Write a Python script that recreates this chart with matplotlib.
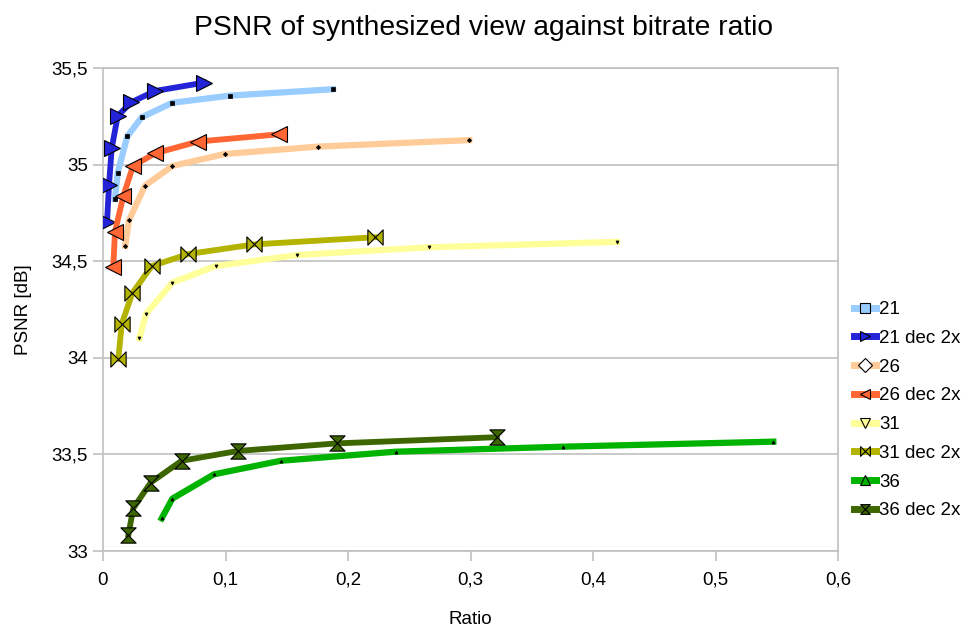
import numpy as np
import matplotlib
matplotlib.use("Agg")
import matplotlib.pyplot as plt
from matplotlib.path import Path
from matplotlib.lines import Line2D
from matplotlib.ticker import FuncFormatter, MultipleLocator

plt.rcParams['font.family'] = ['Liberation Sans', 'DejaVu Sans']

# ---- data ----------------------------------------------------------------
x21   = [0.0098, 0.0120, 0.0198, 0.0316, 0.0566, 0.1037, 0.1878]
y21   = [34.822, 34.958, 35.146, 35.245, 35.320, 35.357, 35.390]
x21d  = [0.0033, 0.0049, 0.0071, 0.0120, 0.0229, 0.0424, 0.0824]
y21d  = [34.703, 34.894, 35.084, 35.252, 35.322, 35.381, 35.424]
x26   = [0.0182, 0.0212, 0.0343, 0.0566, 0.0996, 0.1753, 0.2990]
y26   = [34.580, 34.712, 34.891, 34.993, 35.055, 35.093, 35.127]
x26d  = [0.0084, 0.0098, 0.0166, 0.0245, 0.0424, 0.0773, 0.1439]
y26d  = [34.472, 34.653, 34.837, 34.993, 35.058, 35.119, 35.157]
x31   = [0.0296, 0.0351, 0.0566, 0.0920, 0.1586, 0.2659, 0.4196]
y31   = [34.101, 34.227, 34.389, 34.475, 34.532, 34.572, 34.600]
x31d  = [0.0125, 0.0153, 0.0239, 0.0398, 0.0696, 0.1235, 0.2220]
y31d  = [33.994, 34.175, 34.334, 34.475, 34.537, 34.587, 34.624]
x36   = [0.0479, 0.0566, 0.0906, 0.1451, 0.2389, 0.3758, 0.5472]
y36   = [33.169, 33.271, 33.397, 33.467, 33.514, 33.540, 33.566]
x36d  = [0.0207, 0.0247, 0.0389, 0.0642, 0.1104, 0.1908, 0.3214]
y36d  = [33.083, 33.221, 33.354, 33.467, 33.518, 33.557, 33.589]

labels = ["21", "21 dec 2x", "26", "26 dec 2x", "31", "31 dec 2x", "36", "36 dec 2x"]
colors = ["#99ccff", "#2323d8", "#ffcc99", "#ff6633",
          "#ffff99", "#b3b300", "#00b300", "#3d6600"]

# custom markers: bowtie and hourglass
bowtie = Path([(-1, 1), (1, -1), (1, 1), (-1, -1), (-1, 1)],
              [Path.MOVETO, Path.LINETO, Path.LINETO, Path.LINETO, Path.CLOSEPOLY])
hourglass = Path([(-1, 1), (1, 1), (-1, -1), (1, -1), (-1, 1)],
                 [Path.MOVETO, Path.LINETO, Path.LINETO, Path.LINETO, Path.CLOSEPOLY])
markers = ["s", ">", "D", "<", "v", bowtie, "^", hourglass]

series = [(x21, y21), (x21d, y21d), (x26, y26), (x26d, y26d),
          (x31, y31), (x31d, y31d), (x36, y36), (x36d, y36d)]

fig = plt.figure(figsize=(9.66, 6.3), dpi=100)
ax = fig.add_axes([103/966, 1-551/630, 735/966, 483/630])

for i, (xs, ys) in enumerate(series):
    dec = i % 2 == 1
    if dec:
        ax.plot(xs, ys, color=colors[i], lw=4.2, marker=markers[i], ms=11,
                mfc=colors[i], mec="black", mew=0.8, solid_joinstyle="round", zorder=3)
    else:
        ax.plot(xs, ys, color=colors[i], lw=4.5, marker=markers[i], ms=2.2,
                mfc="black", mec="black", mew=0.5, solid_joinstyle="round", zorder=2)

ax.set_xlim(0, 0.6)
ax.set_ylim(33, 35.5)
ax.xaxis.set_major_locator(MultipleLocator(0.1))
ax.yaxis.set_major_locator(MultipleLocator(0.5))
fmt = FuncFormatter(lambda v, p: ("%g" % round(v, 2)).replace(".", ","))
ax.xaxis.set_major_formatter(fmt)
ax.yaxis.set_major_formatter(fmt)
ax.grid(axis="y", color="#c0c0c0", lw=1.2)
ax.set_axisbelow(True)
for s in ax.spines.values():
    s.set_color("#c0c0c0")
    s.set_linewidth(1.2)
ax.tick_params(direction="out", length=7, width=1.2, color="#c0c0c0",
               labelsize=13.5, pad=4)
ax.tick_params(axis="x", pad=8)

ax.set_xlabel("Ratio", fontsize=13.5, labelpad=16)
ax.set_ylabel("PSNR [dB]", fontsize=13.5, labelpad=14)
fig.text(0.5, 1-28/630, "PSNR of synthesized view against bitrate ratio",
         ha="center", va="center", fontsize=20.3)

handles = [Line2D([], [], color=colors[i], lw=5, marker=markers[i], ms=7,
                  mfc=("white" if i == 2 else colors[i]), mec="black", mew=0.8)
           for i in range(8)]
fig.legend(handles, labels, loc="upper left", bbox_to_anchor=(854/966, 1-301/630),
           frameon=False, fontsize=13.5, handlelength=1.15, handletextpad=0.2,
           labelspacing=0.62, borderpad=0, borderaxespad=0)

fig.savefig("out.png", dpi=100)
